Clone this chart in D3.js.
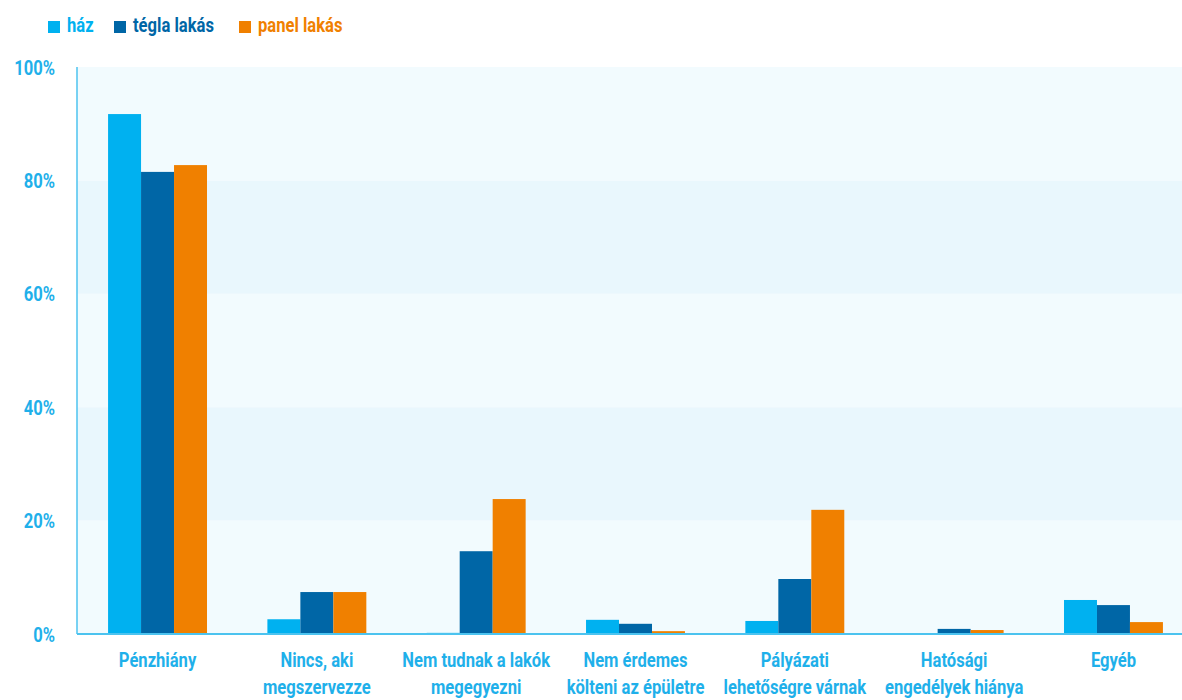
<!DOCTYPE html>
<html>
<head>
<meta charset="utf-8">
<script src="https://cdn.jsdelivr.net/npm/d3@7/dist/d3.min.js"></script>
<style>
  html, body { margin: 0; padding: 0; background: #ffffff; }
  svg text { font-family: Roboto, "DejaVu Sans", sans-serif; font-weight: bold; }
</style>
</head>
<body>
<svg id="chart" width="1182" height="700"></svg>
<script>
// Categories (each label split into display lines)
const categories = [
  ["Pénzhiány"],
  ["Nincs, aki", "megszervezze"],
  ["Nem tudnak a lakók", "megegyezni"],
  ["Nem érdemes", "költeni az épületre"],
  ["Pályázati", "lehetőségre várnak"],
  ["Hatósági", "engedélyek hiánya"],
  ["Egyéb"]
];
const seriesNames = ["ház", "tégla lakás", "panel lakás"];
const hazValues   = [91.7, 2.6, 0.2, 2.5, 2.3, 0.0, 6.0];
const teglaValues = [81.5, 7.4, 14.6, 1.8, 9.7, 0.9, 5.1];
const panelValues = [82.7, 7.4, 23.8, 0.5, 21.9, 0.7, 2.1];
const yTicks = [0, 20, 40, 60, 80, 100];

const colors = ["#00b1f0", "#0066a6", "#f08000"];
const labelColor = "#1fb0ea";
const seriesValues = [hazValues, teglaValues, panelValues];

// Condensed look: horizontal squeeze applied to every label
const SQUEEZE = 0.79;
const FONT = "21px";

const svg = d3.select("#chart");
const W = 1182, H = 700;
const plotLeft = 77, plotRight = 1182, plotTop = 67, plotBottom = 634;

const x0 = d3.scaleBand()
  .domain(d3.range(categories.length))
  .range([plotLeft, 1194])
  .paddingInner(0.379)
  .paddingOuter(0.195);
const x1 = d3.scaleBand()
  .domain(d3.range(seriesNames.length))
  .range([0, x0.bandwidth()]);
const y = d3.scaleLinear().domain([0, 100]).range([plotBottom, plotTop]);

// Places a squeezed text at (x, y) with the given anchor
function label(parent, txt, x, yy, anchor, color) {
  return parent.append("text")
    .attr("transform", `translate(${x},${yy}) scale(${SQUEEZE},1)`)
    .attr("text-anchor", anchor)
    .attr("fill", color)
    .style("font-size", FONT)
    .text(txt);
}

// Alternating background bands
const bands = d3.pairs(yTicks);
svg.append("g").selectAll("rect").data(bands).join("rect")
  .attr("x", plotLeft)
  .attr("width", plotRight - plotLeft)
  .attr("y", d => y(d[1]))
  .attr("height", d => y(d[0]) - y(d[1]))
  .attr("fill", (d, i) => (i % 2 === 1 ? "#e9f7fd" : "#f2fbfe"));

// Bars
const groups = svg.append("g").selectAll("g").data(categories).join("g")
  .attr("transform", (d, i) => `translate(${x0(i)},0)`);
groups.selectAll("rect")
  .data((d, i) => seriesValues.map((vals, s) => ({ s, v: vals[i] })))
  .join("rect")
  .attr("x", d => x1(d.s))
  .attr("width", x1.bandwidth())
  .attr("y", d => y(d.v))
  .attr("height", d => y(0) - y(d.v))
  .attr("fill", d => colors[d.s]);

// Axis lines
svg.append("line")
  .attr("x1", plotLeft).attr("x2", plotLeft)
  .attr("y1", y(100)).attr("y2", y(0))
  .attr("stroke", "#4cc3ef").attr("stroke-width", 1.5);
svg.append("line")
  .attr("x1", plotLeft).attr("x2", plotRight)
  .attr("y1", y(0)).attr("y2", y(0))
  .attr("stroke", "#4cc3ef").attr("stroke-width", 2);

// Y tick labels
const ya = svg.append("g");
yTicks.forEach(t => label(ya, t + "%", 55, y(t) + 7.5, "end", labelColor));

// X labels
const xl = svg.append("g");
categories.forEach((lines, i) => {
  const cx = x0(i) + x0.bandwidth() / 2;
  lines.forEach((ln, j) => label(xl, ln, cx, 667 + j * 27, "middle", labelColor));
});

// Legend
const legendX = [48, 114, 239];
const lg = svg.append("g");
seriesNames.forEach((name, i) => {
  lg.append("rect").attr("x", legendX[i]).attr("y", 21).attr("width", 12).attr("height", 12)
    .attr("fill", colors[i]);
  label(lg, name, legendX[i] + 19, 32, "start", colors[i]);
});
</script>
</body>
</html>
